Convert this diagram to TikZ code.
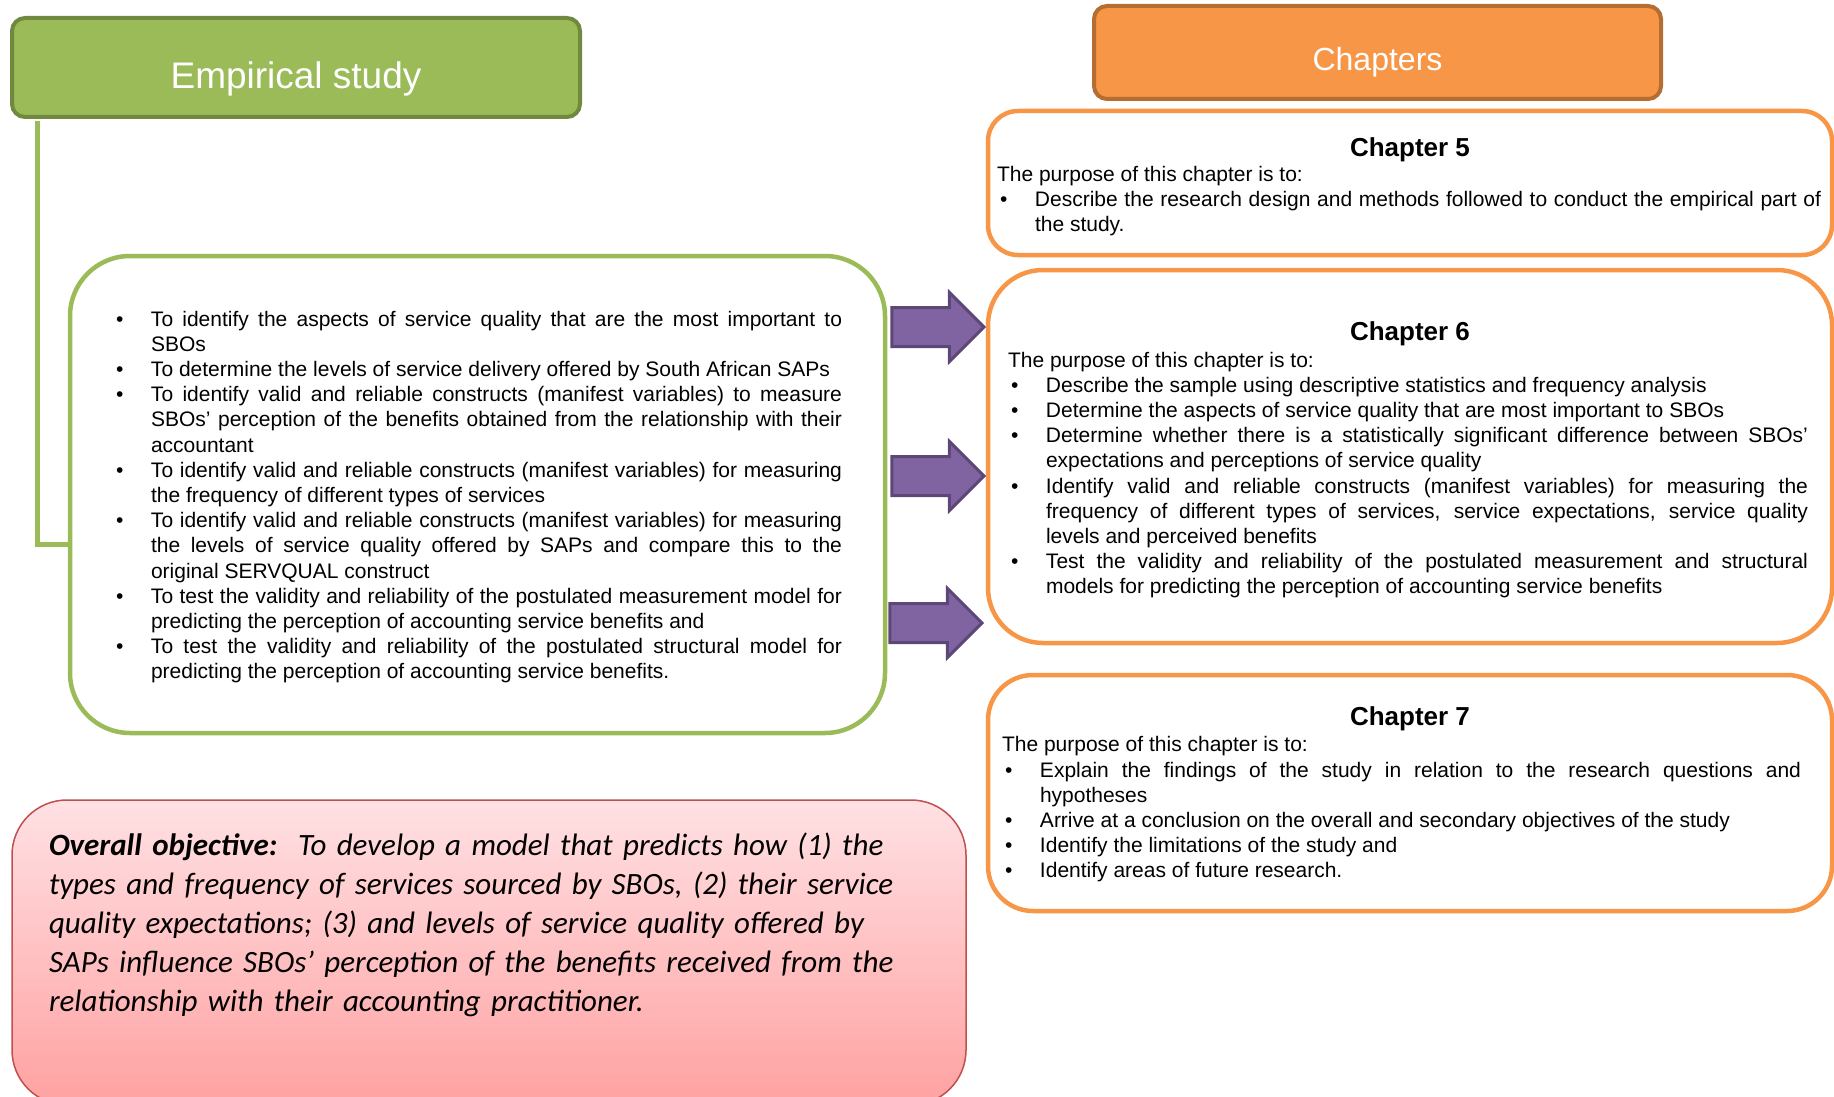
\documentclass[tikz,border=0pt]{standalone}
\usepackage{fontspec}
\setmainfont{Liberation Sans}
\newfontfamily\calibri{Carlito}
\usetikzlibrary{shapes}
\usetikzlibrary{arrows}

\definecolor{grn}{HTML}{9BBB59}
\definecolor{grndark}{HTML}{71893F}
\definecolor{orng}{HTML}{F79646}
\definecolor{orngdark}{HTML}{B66D31}
\definecolor{purp}{HTML}{8064A2}
\definecolor{purpdark}{HTML}{5C4776}
\definecolor{redline}{HTML}{C0504D}
\definecolor{redtop}{HTML}{FFE1E4}
\definecolor{redbot}{HTML}{FFA1A1}

\setlength{\parindent}{0pt}
\hyphenpenalty=10000
\tolerance=9999
\newcommand{\bodyfont}{\fontsize{21}{25.2}\selectfont}
\newcommand{\titlefont}{\fontsize{26}{30}\selectfont\bfseries}
\newcommand{\bitem}[1]{\par\spaceskip=.278em plus .2em minus .12em
  \hangindent=38pt\hangafter=1\noindent\makebox[38pt][l]{\hspace{3pt}\textbullet}#1}

\begin{document}
\begin{tikzpicture}[x=1pt,y=-1pt]

  \tikzset{header/.style = {rounded corners=13pt,line width=4pt,inner sep=0pt,text=white}}
  \tikzset{objbox/.style = {draw=grn,line width=4.5pt,inner sep=0pt,align=justify,font=\bodyfont}}
  \tikzset{chapbox/.style = {draw=orng,line width=4.5pt,text width=844pt,inner sep=0pt,align=justify,font=\bodyfont}}
  \tikzset{blockarrow/.style = {single arrow,draw=purpdark,fill=purp,line width=3pt,anchor=tip,
      minimum height=92pt,minimum width=66pt,single arrow head extend=15pt,
      text height=36pt,text depth=0pt,inner sep=0pt}}
  \tikzset{link/.style = {draw=grn,line width=5pt}}

  \useasboundingbox (0,0) rectangle (1834,1097);
  \clip (0,0) rectangle (1834,1097);

  % headers
  \node[header,fill=grn,draw=grndark,minimum width=568pt,minimum height=99pt,
        font=\fontsize{37}{40}\selectfont] (empirical) at (296,67.5)
        {\raisebox{-21pt}[0pt][0pt]{Empirical study}};
  \node[header,fill=orng,draw=orngdark,minimum width=567pt,minimum height=93pt,
        font=\fontsize{32}{36}\selectfont] (chapters) at (1377.5,52.5)
        {\raisebox{-18pt}[0pt][0pt]{Chapters}};

  % objectives
  \node[objbox,rounded corners=60pt,minimum width=815pt,minimum height=477pt,text width=729pt]
        (objectives) at (477.5,494.5) {%
    \vspace*{-5pt}
    \bitem{To identify the aspects of service quality that are the most important to\linebreak SBOs}
    \bitem{To determine the levels of service delivery offered by South African SAPs}
    \bitem{To identify valid and reliable constructs (manifest variables) to measure\linebreak SBOs’ perception of the benefits obtained from the relationship with their\linebreak accountant}
    \bitem{To identify valid and reliable constructs (manifest variables) for measuring\linebreak the frequency of different types of services}
    \bitem{To identify valid and reliable constructs (manifest variables) for measuring\linebreak the levels of service quality offered by SAPs and compare this to the\linebreak original SERVQUAL construct}
    \bitem{To test the validity and reliability of the postulated measurement model for\linebreak predicting the perception of accounting service benefits and}
    \bitem{To test the validity and reliability of the postulated structural model for\linebreak predicting the perception of accounting service benefits.}\par};

  % chapters
  \node[chapbox,rounded corners=30pt,minimum height=144pt] (ch5) at (1410,183) {%
    {\centering\titlefont\rule{0pt}{26pt}Chapter 5\par}\vspace{0pt}
    \leftskip=9pt\rightskip=11pt
    \noindent The purpose of this chapter is to:
    \bitem{Describe the research design and methods followed to conduct the empirical part of\linebreak the study.}\par};
  \node[chapbox,rounded corners=55pt,minimum height=373pt] (ch6) at (1410,456.5) {%
    {\centering\titlefont\rule{0pt}{26pt}Chapter 6\par}\vspace{1pt}
    \leftskip=20pt\rightskip=24pt
    \noindent The purpose of this chapter is to:
    \bitem{Describe the sample using descriptive statistics and frequency analysis}
    \bitem{Determine the aspects of service quality that are most important to SBOs}
    \bitem{Determine whether there is a statistically significant difference between SBOs’\linebreak expectations and perceptions of service quality}
    \bitem{Identify valid and reliable constructs (manifest variables) for measuring the\linebreak frequency of different types of services, service expectations, service quality\linebreak levels and perceived benefits}
    \bitem{Test the validity and reliability of the postulated measurement and structural\linebreak models for predicting the perception of accounting service benefits}\par};
  \node[chapbox,rounded corners=45pt,minimum height=236pt] (ch7) at (1410,793) {%
    {\centering\titlefont\rule{0pt}{22pt}Chapter 7\par}\vspace{1pt}
    \leftskip=14pt\rightskip=31pt
    \noindent The purpose of this chapter is to:
    \bitem{Explain the findings of the study in relation to the research questions and\linebreak hypotheses}
    \bitem{Arrive at a conclusion on the overall and secondary objectives of the study}
    \bitem{Identify the limitations of the study and}
    \bitem{Identify areas of future research.}\par};

  % overall objective
  \node[draw=redline,line width=1.5pt,rounded corners=55pt,top color=redtop,bottom color=redbot,
        minimum width=954pt,minimum height=305pt,text width=880pt,inner sep=0pt,align=left,
        font=\calibri\itshape\fontsize{31}{39}\selectfont] (overall) at (489,952.5) {%
    \textbf{Overall objective:}\ \ To develop a model that predicts how (1) the\\
    types and frequency of services sourced by SBOs, (2) their service\\
    quality expectations; (3) and levels of service quality offered by\\
    SAPs influence SBOs’ perception of the benefits received from the\\
    relationship with their accounting practitioner.\par\vspace*{21pt}\hbox{}};

  % arrows
  \node[blockarrow] (arrowA) at (986,327) {};
  \node[blockarrow] (arrowB) at (986,476) {};
  \node[blockarrow] (arrowC) at (984,623) {};

  % link
  \draw[link] ([xshift=27pt,yshift=-2pt]empirical.south west) |- ([yshift=-49.5pt]objectives.west);
\end{tikzpicture}
\end{document}
